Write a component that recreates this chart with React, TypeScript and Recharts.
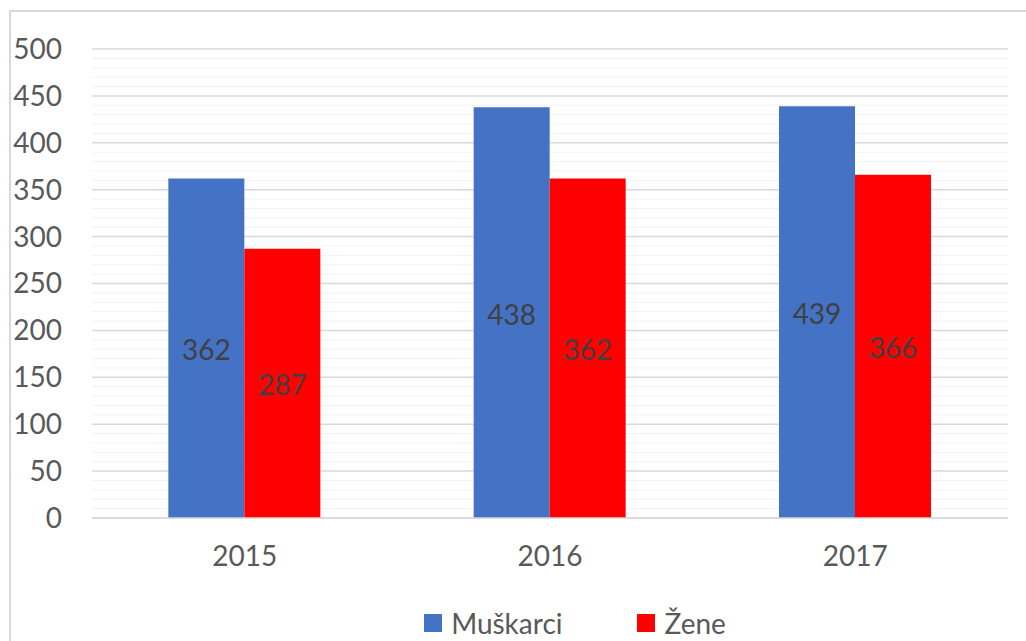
import { Bar, BarChart, CartesianGrid, LabelList, Legend, XAxis, YAxis } from "recharts";

const years = ["2015", "2016", "2017"];
const muskarci = [362, 438, 439];
const zene = [287, 362, 366];
const yTicks = [0, 50, 100, 150, 200, 250, 300, 350, 400, 450, 500];
const minorTicks = [10, 20, 30, 40, 60, 70, 80, 90, 110, 120, 130, 140, 160, 170, 180, 190, 210, 220, 230, 240, 260, 270, 280, 290, 310, 320, 330, 340, 360, 370, 380, 390, 410, 420, 430, 440, 460, 470, 480, 490];

const data = years.map((year, i) => ({
  year,
  muskarci: muskarci[i],
  zene: zene[i],
}));

const font = "Lato, 'Open Sans', sans-serif";

function LegendContent({ payload }: any) {
  return (
    <div style={{ display: "flex", justifyContent: "center", alignItems: "center", height: 40, fontFamily: font, fontSize: 28, color: "#595959", paddingLeft: 124 }}>
      {(payload || []).map((item: any, i: number) => (
        <div key={item.value} style={{ display: "flex", alignItems: "center", marginLeft: i === 0 ? 0 : 75 }}>
          <span style={{ display: "inline-block", width: 18, height: 18, background: item.color, marginRight: 9 }} />
          <span>{item.value}</span>
        </div>
      ))}
    </div>
  );
}

export default function App() {
  return (
    <div style={{ position: "absolute", left: 0, top: 0, width: 1026, height: 641, overflow: "hidden", background: "#fff" }}>
      <div style={{ position: "absolute", left: 9, top: 10, width: 1100, height: 700, borderLeft: "2px solid #d9d9d9", borderTop: "2px solid #d9d9d9" }} />
      <BarChart
        width={1026}
        height={641}
        data={data}
        margin={{ top: 49, right: 18, left: 0, bottom: 23 }}
        barCategoryGap="25%"
        barGap={0}
        style={{ position: "absolute", left: 0, top: 0 }}
      >
        <CartesianGrid vertical={false} horizontalValues={minorTicks} stroke="#f2f2f2" strokeWidth={1} />
        <CartesianGrid vertical={false} stroke="#d9d9d9" strokeWidth={1.5} />
        <XAxis
          dataKey="year"
          height={60}
          tickLine={false}
          tickSize={0}
          tickMargin={28}
          axisLine={{ stroke: "#d9d9d9", strokeWidth: 1.5 }}
          tick={{ fill: "#595959", fontSize: 28, fontFamily: font }}
        />
        <YAxis
          width={92}
          domain={[0, 500]}
          ticks={yTicks}
          interval={0}
          axisLine={false}
          tickLine={false}
          tickSize={0}
          tickMargin={30}
          tick={{ fill: "#595959", fontSize: 28, fontFamily: font }}
        />
        <Legend content={<LegendContent />} wrapperStyle={{ top: 603, left: 0, width: 1026 }} />
        <Bar dataKey="muskarci" name="Muškarci" fill="#4472C4" isAnimationActive={false}>
          <LabelList dataKey="muskarci" position="center" fill="#404040" fontSize={28} fontFamily={font} dy={2} />
        </Bar>
        <Bar dataKey="zene" name="Žene" fill="#FF0000" isAnimationActive={false}>
          <LabelList dataKey="zene" position="center" fill="#404040" fontSize={28} fontFamily={font} dy={2} />
        </Bar>
      </BarChart>
    </div>
  );
}
